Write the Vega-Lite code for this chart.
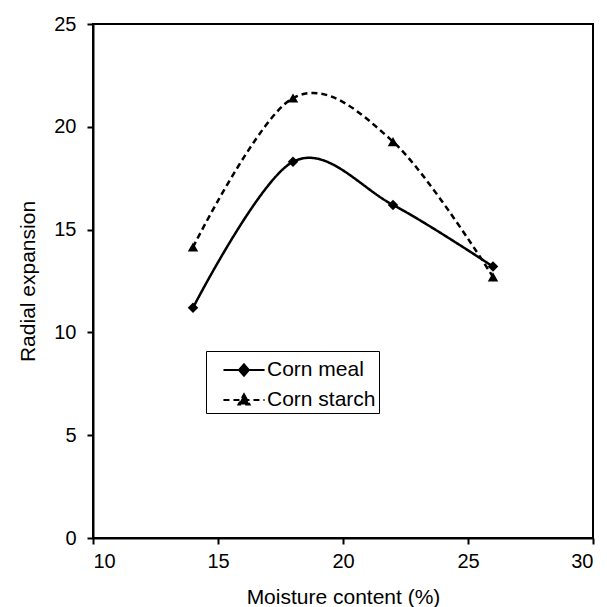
{
  "$schema": "https://vega.github.io/schema/vega-lite/v6.json",
  "width": 500,
  "height": 514,
  "autosize": {"type": "none"},
  "padding": {"left": 93, "top": 24, "right": 14, "bottom": 69},
  "background": "white",
  "config": {
    "font": "Liberation Sans",
    "view": {"stroke": "black", "strokeWidth": 2},
    "axis": {
      "grid": false,
      "domainColor": "black",
      "domainWidth": 2,
      "tickColor": "black",
      "tickWidth": 2,
      "tickSize": 6,
      "labelFont": "Liberation Sans",
      "labelFontSize": 20,
      "labelColor": "black",
      "titleFont": "Liberation Sans",
      "titleFontSize": 21,
      "titleFontWeight": "normal",
      "titleColor": "black"
    }
  },
  "data": {
    "values": [
      {"moisture": 14, "expansion": 11.2, "series": "Corn meal"},
      {"moisture": 18, "expansion": 18.3, "series": "Corn meal"},
      {"moisture": 22, "expansion": 16.2, "series": "Corn meal"},
      {"moisture": 26, "expansion": 13.2, "series": "Corn meal"},
      {"moisture": 14, "expansion": 14.15, "series": "Corn starch"},
      {"moisture": 18, "expansion": 21.4, "series": "Corn starch"},
      {"moisture": 22, "expansion": 19.28, "series": "Corn starch"},
      {"moisture": 26, "expansion": 12.7, "series": "Corn starch"}
    ]
  },
  "encoding": {
    "x": {
      "field": "moisture",
      "type": "quantitative",
      "scale": {"domain": [10, 30], "nice": false},
      "axis": {
        "values": [10, 15, 20, 25, 30],
        "title": "Moisture content (%)",
        "labelPadding": 7,
        "titleX": 250,
        "titleY": 65,
        "titleAlign": "center",
        "titleBaseline": "alphabetic"
      }
    },
    "y": {
      "field": "expansion",
      "type": "quantitative",
      "scale": {"domain": [0, 25], "nice": false, "zero": true},
      "axis": {
        "values": [0, 5, 10, 15, 20, 25],
        "title": "Radial expansion",
        "labelPadding": 11,
        "titleX": -59,
        "titleY": 257,
        "titleAlign": "center",
        "titleBaseline": "alphabetic",
        "titleAngle": -90
      }
    }
  },
  "layer": [
    {
      "mark": {"type": "line", "interpolate": "cardinal", "tension": 0, "color": "black", "strokeWidth": 2.5},
      "encoding": {
        "strokeDash": {
          "field": "series",
          "type": "nominal",
          "scale": {"domain": ["Corn meal", "Corn starch"], "range": [{"expr": "[1, 0]"}, {"expr": "[6, 4]"}]},
          "legend": {
            "title": null,
            "orient": "none",
            "legendX": 113,
            "legendY": 327,
            "strokeColor": "black",
            "fillColor": "white",
            "padding": 3,
            "labelFont": "Liberation Sans",
            "labelFontSize": 21,
            "labelColor": "black",
            "labelOffset": 7,
            "symbolOffset": 19,
            "rowPadding": 4,
            "symbolSize": 900,
            "symbolStrokeWidth": 2,
            "symbolStrokeColor": "black",
            "symbolFillColor": "black",
            "encode": {
              "symbols": {
                "update": {
                  "shape": {"signal": "datum.value === 'Corn meal' ? 'M-1.37,0H1.37M0,-0.38L0.33,0L0,0.38L-0.33,0Z' : 'M-1.37,0H1.37M0,-0.38L0.37,0.3L-0.37,0.3Z'"},
                  "fill": {"value": "black"},
                  "stroke": {"value": "black"},
                  "strokeWidth": {"value": 2}
                }
              }
            }
          }
        }
      }
    },
    {
      "mark": {"type": "point", "filled": true, "color": "black", "opacity": 1},
      "encoding": {
        "shape": {
          "condition": {"test": "datum.series === 'Corn meal'", "value": "diamond"},
          "value": "triangle-up"
        },
        "size": {"value": 110}
      }
    }
  ]
}
